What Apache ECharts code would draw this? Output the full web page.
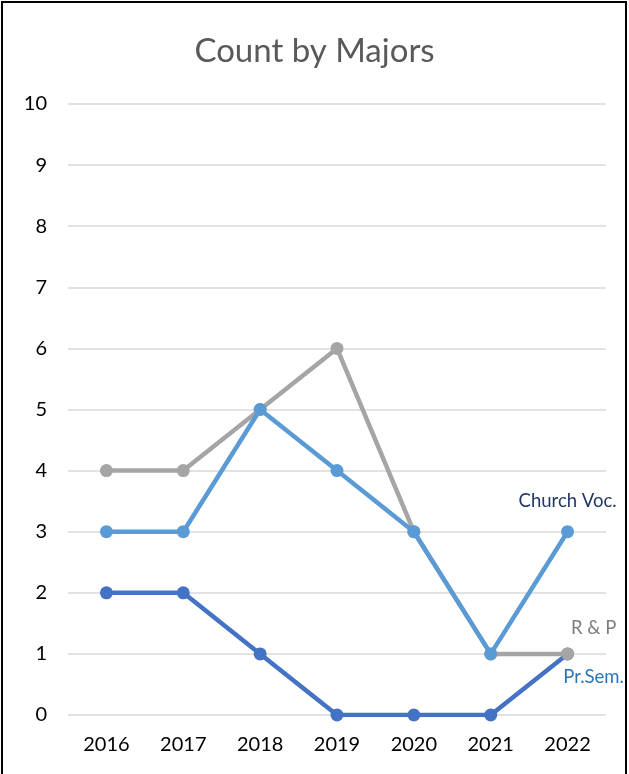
<!DOCTYPE html>
<html><head><meta charset="utf-8">
<script src="https://cdn.jsdelivr.net/npm/echarts@6/dist/echarts.min.js"></script>
<style>
html,body{margin:0;padding:0;background:#fff;}
#wrap{position:absolute;left:1px;top:1px;width:626px;height:775px;border:2px solid #000;border-bottom:none;box-sizing:border-box;}
#c{position:absolute;left:0;top:0;width:629px;height:774px;}
</style></head>
<body>
<div id="c"></div>
<div id="wrap"></div>
<script>
const years = ['2016','2017','2018','2019','2020','2021','2022'];
const prSem = [2,2,1,0,0,0,1];
const rAndP = [4,4,5,6,3,1,1];
const churchVoc = [3,3,5,4,3,1,3];
const seriesNames = ['Pr.Sem.','R & P','Church Voc.'];
const seriesColors = ['#4472C4','#A5A5A5','#5B9BD5'];
const labelColors = ['#2E75B6','#7F7F7F','#203864'];
const labelOffsets = [[26,23],[26,-26],[0,-31]];
const font = 'Lato, "Liberation Sans", sans-serif';

function mk(i, vals){
  return {
    name: seriesNames[i], type:'line', data: vals.map((v,j)=> j===vals.length-1 ? {
      value:v, label:{show:true, formatter: seriesNames[i], position:'inside', offset: labelOffsets[i],
        color: labelColors[i], fontSize:18.5, fontFamily: font}
    } : v),
    symbol:'circle', symbolSize:13, lineStyle:{width:4.5, color: seriesColors[i]},
    itemStyle:{color: seriesColors[i]}, animation:false, z: 2+i
  };
}
const chart = echarts.init(document.getElementById('c'));
chart.setOption({
  backgroundColor:'#fff',
  title:{text:'Count by Majors', left:'center', top:30, textStyle:{fontFamily:font, fontSize:33, fontWeight:'normal', color:'#595959'}},
  grid:{left:68, right:23, top:104, bottom:59},
  xAxis:{type:'category', data: years, boundaryGap:true,
    axisLine:{show:false}, axisTick:{show:false},
    axisLabel:{fontFamily:font, fontSize:20, color:'#000', margin:20}},
  yAxis:{type:'value', min:0, max:10, interval:1,
    axisLine:{show:false}, axisTick:{show:false},
    splitLine:{lineStyle:{color:'#D9D9D9', width:1.5}},
    axisLabel:{fontFamily:font, fontSize:20, color:'#000', margin:21}},
  series:[mk(0,prSem), mk(1,rAndP), mk(2,churchVoc)]
});
</script>
</body></html>
